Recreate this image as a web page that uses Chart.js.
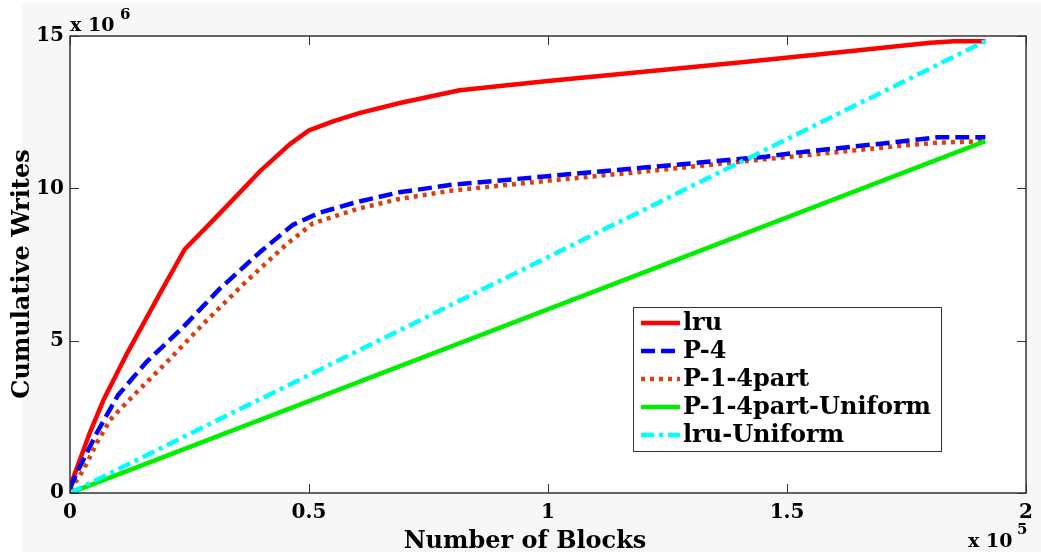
<!DOCTYPE html>
<html>
<head>
<meta charset="utf-8">
<title>Cumulative Writes</title>
<script src="https://cdn.jsdelivr.net/npm/chart.js@4.4.1/dist/chart.umd.min.js"></script>
<style>
  html, body { margin: 0; padding: 0; background: #fff; }
  #wrap { width: 1041px; height: 552px; position: relative; }
</style>
</head>
<body>
<div id="wrap"><canvas id="writesChart"></canvas></div>
<script>
// x in units of 1e5 blocks, y in units of 1e6 writes
const lruX = [0, 0.042, 0.07, 0.12, 0.19, 0.24, 0.29, 0.33, 0.40, 0.46, 0.50, 0.55, 0.605, 0.69, 0.815, 1.0, 1.2, 1.4, 1.6, 1.8, 1.85, 1.915];
const lruY = [0.2, 2.0, 3.05, 4.6, 6.6, 8.0, 8.8, 9.45, 10.6, 11.45, 11.9, 12.2, 12.47, 12.8, 13.22, 13.52, 13.83, 14.13, 14.45, 14.78, 14.83, 14.83];

const p4X = [0, 0.014, 0.056, 0.1, 0.16, 0.237, 0.313, 0.397, 0.466, 0.522, 0.6, 0.689, 0.8, 1.0, 1.2, 1.456, 1.524, 1.733, 1.816, 1.915];
const p4Y = [0.15, 0.66, 1.97, 3.2, 4.3, 5.45, 6.7, 7.9, 8.8, 9.2, 9.55, 9.87, 10.12, 10.4, 10.68, 11.04, 11.18, 11.53, 11.68, 11.68];

const p14X = [0, 0.028, 0.056, 0.084, 0.139, 0.209, 0.285, 0.369, 0.452, 0.508, 0.6, 0.689, 0.8, 1.0, 1.2, 1.456, 1.524, 1.733, 1.816, 1.915];
const p14Y = [0.1, 0.75, 1.64, 2.4, 3.3, 4.4, 5.65, 6.95, 8.15, 8.85, 9.32, 9.65, 9.93, 10.25, 10.55, 10.96, 11.06, 11.39, 11.5, 11.55];

const uniformX = [0, 1.915];
const p14UniformY = [0, 11.55];
const lruUniformY = [0, 14.83];

const seriesNames = ['lru', 'P-4', 'P-1-4part', 'P-1-4part-Uniform', 'lru-Uniform'];
const xTicks = [0, 0.5, 1, 1.5, 2];
const yTicks = [0, 5, 10, 15];

const FONT = '"DejaVu Serif", serif';

function pts(xs, ys) {
    return xs.map((x, i) => ({ x: x, y: ys[i] }));
}

function series(label, xs, ys, color, dash, order) {
    return {
        label: label,
        data: pts(xs, ys),
        borderColor: color,
        backgroundColor: color,
        borderWidth: 4.5,
        borderDash: dash,
        borderCapStyle: 'butt',
        borderJoinStyle: 'round',
        pointRadius: 0,
        tension: 0,
        fill: false,
        order: order
    };
}

const datasets = [
    series(seriesNames[0], lruX, lruY, '#ff0000', [], 4),
    series(seriesNames[1], p4X, p4Y, '#0000ff', [14, 6], 2),
    series(seriesNames[2], p14X, p14Y, '#d9400f', [4, 5], 3),
    series(seriesNames[3], uniformX, p14UniformY, '#00ee00', [], 1),
    series(seriesNames[4], uniformX, lruUniformY, '#00ffff', [13, 5, 4, 5], 0)
];

// background, box, inward ticks, legend and labels
const frame = {
    id: 'frame',
    beforeDraw(chart) {
        const { ctx, chartArea: a, width, height } = chart;
        ctx.save();
        ctx.fillStyle = '#ffffff';
        ctx.fillRect(0, 0, width, height);
        ctx.fillStyle = '#f7f7f7';
        ctx.fillRect(22, 3, width - 22, height - 3);
        ctx.fillStyle = '#ffffff';
        ctx.fillRect(a.left, a.top, a.right - a.left, a.bottom - a.top);
        ctx.restore();
    },
    afterDatasetsDraw(chart) {
        const { ctx, chartArea: a } = chart;
        const sx = chart.scales.x, sy = chart.scales.y;
        ctx.save();
        ctx.strokeStyle = '#333333';
        ctx.lineWidth = 1.5;
        ctx.strokeRect(a.left, a.top, a.right - a.left, a.bottom - a.top);
        ctx.lineWidth = 1;
        ctx.beginPath();
        xTicks.forEach(v => {
            const px = Math.round(sx.getPixelForValue(v)) + 0.5;
            ctx.moveTo(px, a.bottom); ctx.lineTo(px, a.bottom - 9);
            ctx.moveTo(px, a.top); ctx.lineTo(px, a.top + 9);
        });
        yTicks.forEach(v => {
            const py = Math.round(sy.getPixelForValue(v)) + 0.5;
            ctx.moveTo(a.left, py); ctx.lineTo(a.left + 9, py);
            ctx.moveTo(a.right, py); ctx.lineTo(a.right - 9, py);
        });
        ctx.stroke();
        ctx.restore();
    },
    afterDraw(chart) {
        const { ctx, chartArea: a } = chart;
        ctx.save();
        ctx.fillStyle = '#000';

        // exponent labels
        ctx.textAlign = 'left';
        ctx.textBaseline = 'alphabetic';
        ctx.font = 'bold 19px ' + FONT;
        ctx.fillText('x 10', a.left, 31);
        ctx.font = 'bold 15px ' + FONT;
        ctx.fillText('6', a.left + 50, 19);
        ctx.font = 'bold 19px ' + FONT;
        ctx.fillText('x 10', 968, 547);
        ctx.font = 'bold 15px ' + FONT;
        ctx.fillText('5', 1017, 534);

        // axis titles
        ctx.font = 'bold 24px ' + FONT;
        ctx.textAlign = 'center';
        ctx.fillText('Number of Blocks', 525, 548);
        ctx.save();
        ctx.translate(23, 274);
        ctx.rotate(-Math.PI / 2);
        ctx.textBaseline = 'middle';
        ctx.fillText('Cumulative Writes', 0, 0);
        ctx.restore();

        // legend
        const box = { x: 633, y: 307, w: 308, h: 144 };
        ctx.fillStyle = '#ffffff';
        ctx.fillRect(box.x, box.y, box.w, box.h);
        ctx.strokeStyle = '#333333';
        ctx.lineWidth = 1;
        ctx.strokeRect(box.x + 0.5, box.y + 0.5, box.w, box.h);
        ctx.font = 'bold 24px ' + FONT;
        ctx.textAlign = 'left';
        ctx.textBaseline = 'middle';
        chart.data.datasets.forEach((ds, i) => {
            const y = 323 + i * 28;
            ctx.strokeStyle = ds.borderColor;
            ctx.lineWidth = 4.5;
            ctx.lineCap = 'butt';
            ctx.setLineDash(ds.borderDash);
            ctx.beginPath();
            ctx.moveTo(641, y);
            ctx.lineTo(680, y);
            ctx.stroke();
            ctx.setLineDash([]);
            ctx.fillStyle = '#000';
            ctx.fillText(ds.label, 683, y + 1);
        });
        ctx.restore();
    }
};

new Chart(document.getElementById('writesChart'), {
    type: 'line',
    data: { datasets: datasets },
    options: {
        responsive: true,
        maintainAspectRatio: false,
        animation: false,
        layout: { padding: { top: 36, right: 14, left: 0, bottom: 0 } },
        plugins: {
            legend: { display: false },
            tooltip: { enabled: false }
        },
        scales: {
            x: {
                type: 'linear',
                min: 0,
                max: 2,
                afterFit: scale => { scale.height = 59; },
                afterBuildTicks: scale => { scale.ticks = xTicks.map(v => ({ value: v })); },
                grid: { display: false, drawTicks: false },
                border: { display: false },
                ticks: {
                    autoSkip: false,
                    maxRotation: 0,
                    padding: 8,
                    color: '#000',
                    font: { family: FONT, size: 20, weight: 'bold' },
                    callback: v => String(v)
                }
            },
            y: {
                type: 'linear',
                min: 0,
                max: 15,
                afterFit: scale => { scale.width = 70; },
                afterBuildTicks: scale => { scale.ticks = yTicks.map(v => ({ value: v })); },
                grid: { display: false, drawTicks: false },
                border: { display: false },
                ticks: {
                    padding: 6,
                    color: '#000',
                    font: { family: FONT, size: 20, weight: 'bold' },
                    callback: v => String(v)
                }
            }
        }
    },
    plugins: [frame]
});
</script>
</body>
</html>
